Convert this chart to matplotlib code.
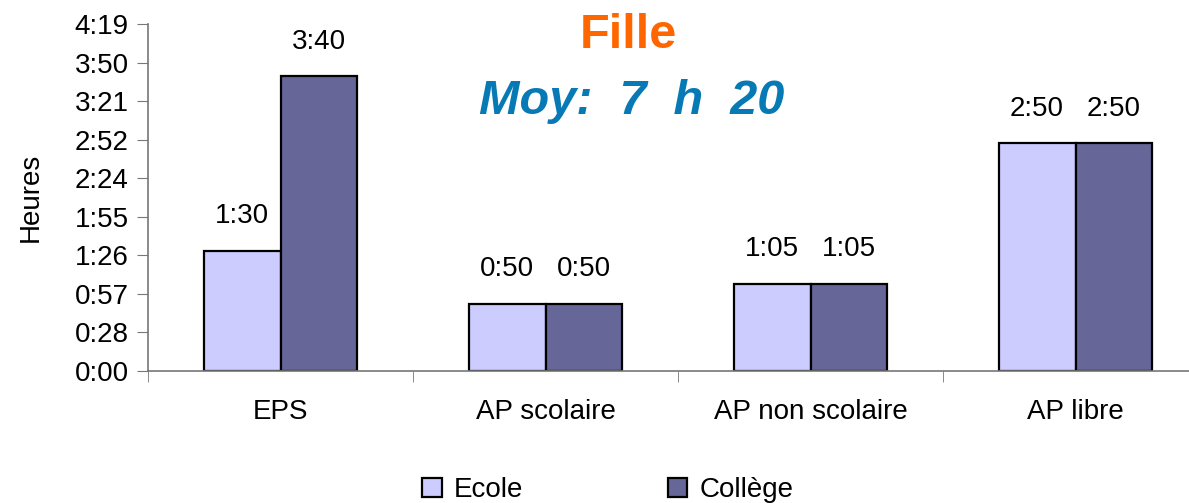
import matplotlib
matplotlib.use("Agg")
import matplotlib.pyplot as plt
import numpy as np

# Temps d'activite physique (minutes) - Fille
categories = ["EPS", "AP scolaire", "AP non scolaire", "AP libre"]
ecole = [90, 50, 65, 170]
college = [220, 50, 65, 170]
series_names = ["Ecole", "Collège"]
ytick_values = [0, 28.8, 57.6, 86.4, 115.2, 144.0, 172.8, 201.6, 230.4, 259.2]
ytick_labels = ["0:00", "0:28", "0:57", "1:26", "1:55", "2:24", "2:52", "3:21", "3:50", "4:19"]

plt.rcParams["font.family"] = ["Liberation Sans", "DejaVu Sans"]
FS = 20


def hmm(minutes):
    return f"{int(minutes) // 60}:{int(minutes) % 60:02d}"


fig = plt.figure(figsize=(11.89, 5.03), dpi=100)
ax = fig.add_axes([148 / 1189, 132 / 503, 1060 / 1189, 347 / 503])

x = np.arange(len(categories))
w = 0.29
b1 = ax.bar(x - w / 2, ecole, w, color="#CCCCFF", edgecolor="black", linewidth=1.6, label=series_names[0])
b2 = ax.bar(x + w / 2, college, w, color="#666699", edgecolor="black", linewidth=1.6, label=series_names[1])

for bars, vals in ((b1, ecole), (b2, college)):
    for rect, v in zip(bars, vals):
        ax.annotate(hmm(v), (rect.get_x() + rect.get_width() / 2, v),
                    xytext=(0, 25), textcoords="offset points",
                    ha="center", va="center", fontsize=FS)

ax.set_xlim(-0.5, len(categories) - 0.5)
ax.set_ylim(0, ytick_values[-1])
ax.set_yticks(ytick_values)
ax.set_yticklabels(ytick_labels, fontsize=FS)
ax.set_xticks(x)
ax.set_xticklabels(categories, fontsize=FS)
ax.set_xticks(np.arange(len(categories) + 1) - 0.5, minor=True)
ax.tick_params(axis="x", which="major", length=0, pad=20)
ax.tick_params(axis="x", which="minor", length=8, direction="out", color="#777777")
ax.tick_params(axis="y", length=8, direction="out", color="#777777", pad=6)

for s in ("top", "right"):
    ax.spines[s].set_visible(False)
for s in ("left", "bottom"):
    ax.spines[s].set_color("#777777")
    ax.spines[s].set_linewidth(1.2)

ax.set_ylabel("Heures", fontsize=FS, labelpad=22)

fig.text(628 / 1189, 1 - 35 / 503, "Fille", color="#FF6600", fontsize=35,
         fontweight="bold", ha="center", va="center")
fig.text(632 / 1189, 1 - 101 / 503, "Moy:  7  h  20", color="#0779B5", fontsize=35,
         fontweight="bold", fontstyle="italic", ha="center", va="center")

fig.legend(loc="center", bbox_to_anchor=(608 / 1189, 1 - 490 / 503), ncol=2,
           frameon=False, fontsize=FS, handlelength=0.7, handleheight=0.7,
           handletextpad=0.45, columnspacing=5.2)

fig.savefig("out.png", dpi=100)
